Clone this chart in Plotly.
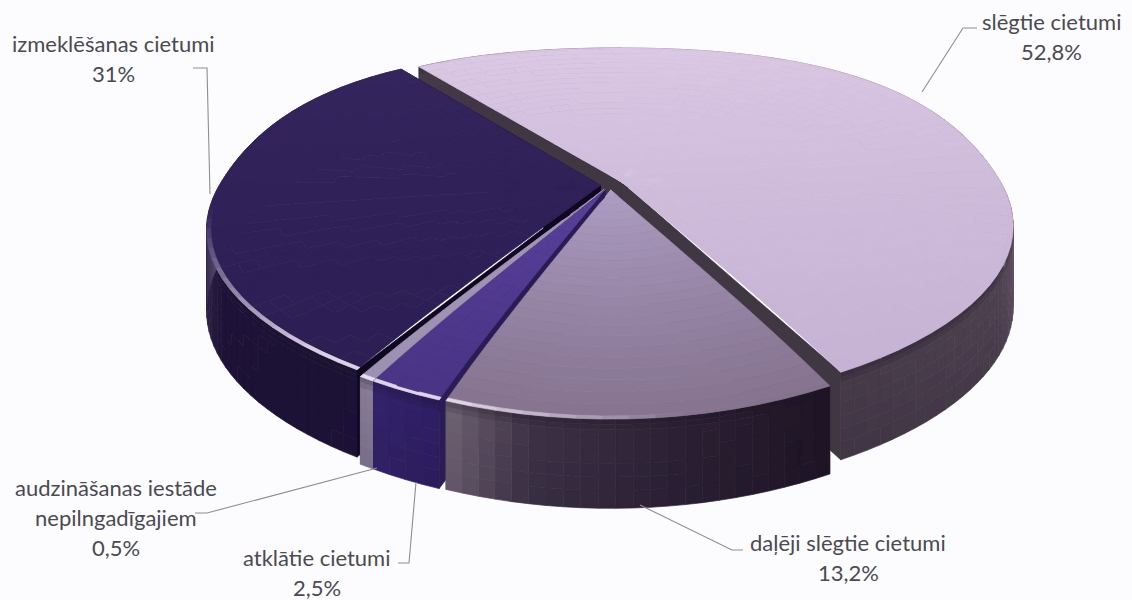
import math
from collections import OrderedDict
import plotly.graph_objects as go

# --- data ---
categories = ["slēgtie cietumi", "daļēji slēgtie cietumi", "atklātie cietumi",
              "audzināšanas iestāde nepilngadīgajiem", "izmeklēšanas cietumi"]
shares = [52.8, 13.2, 2.5, 0.5, 31.0]
share_labels = ["52,8%", "13,2%", "2,5%", "0,5%", "31%"]

# --- styling / projection ---
START = -37.5
CX, CY = 610.0, 185.0
A, B, K = 381.0, 168.75, 0.25
SQUEEZE = 0.05
BACK_FULL = 0.05
DEPTH = 78.0
explode = [0.035, 0.03, 0.03, 0.03, 0.025]
BG = "#fcfcfe"
TEXT = "#4b4a52"
LEADER = "#8e8e90"

style = {
    0: dict(t0="#dccae6", t1="#c4b0d2", wall=[(88, "#8a8096"), (100, "#6e6270"), (118, "#4e4250"), (152, "#453a48")], cut="#3f3742"),
    1: dict(t0="#ae9ec4", t1="#85738f", wall=[(152, "#1d1424"), (172, "#2c2034"), (190, "#3e3246"), (200, "#6f6474")], cut="#4a4050"),
    2: dict(t0="#6f52b8", t1="#44307f", wall=[(200, "#2e1d63"), (212, "#35246e")], cut="#2a1c55"),
    3: dict(t0="#aa9dc4", t1="#9b8fae", wall=[(208, "#8a7f9c"), (214, "#80758f")], cut="#6f6580"),
    4: dict(t0="#35265f", t1="#2b1d52", wall=[(210, "#1c1136"), (240, "#1e1238"), (258, "#3a2d50"), (270, "#5e5276"), (325, "#3a2d60")], cut="#0e0820"),
}
draw_order = [0, 4, 3, 2, 1]


def rgb(h):
    return tuple(int(h[i:i + 2], 16) for i in (1, 3, 5))


def mix(c1, c2, t):
    t = max(0.0, min(1.0, t))
    return tuple(a + (b - a) * t for a, b in zip(c1, c2))


def hexa(c, q=2):
    return "#%02x%02x%02x" % tuple(min(255, int(round(x / q) * q)) for x in c)


def project(u, v, z=0.0):
    s = 1.0 / (1.0 - K * v)
    sx = s * (1 - SQUEEZE * max(v, 0.0) ** 3)
    return CX + A * u * sx, CY + B * v * s + z * DEPTH * (1 + 0.14 * v)


def disk(r, th):
    a = math.radians(th)
    u, v = math.sin(a), -math.cos(a)
    g = 1 + BACK_FULL * 4 * v * v * (1 - v * v) if v < 0 else 1.0
    return r * g * u, r * g * v


def wall_colour(stops, th):
    if th <= stops[0][0]:
        return rgb(stops[0][1])
    for (a0, c0), (a1, c1) in zip(stops, stops[1:]):
        if a0 <= th <= a1:
            return mix(rgb(c0), rgb(c1), (th - a0) / (a1 - a0 or 1))
    return rgb(stops[-1][1])


fig = go.Figure()


def flush(groups):
    for colour, polys in groups.items():
        xs, ys = [], []
        for p in polys:
            xs += [q[0] for q in p] + [p[0][0], None]
            ys += [q[1] for q in p] + [p[0][1], None]
        fig.add_trace(go.Scatter(x=xs, y=ys, mode="lines", fill="toself", fillcolor=colour,
                                 line=dict(color=colour, width=0.7), hoverinfo="skip", showlegend=False))


# slice angles from the shares
angles = []
run = START
for s in shares:
    sweep = s / sum(shares) * 360.0
    angles.append((run, run + sweep))
    run += sweep

for i in draw_order:
    a0, a1 = angles[i]
    st = style[i]
    mid = (a0 + a1) / 2
    m = math.radians(mid)
    ou, ov = explode[i] * math.sin(m), -explode[i] * math.cos(m)
    P = lambda r, th, z=0.0: project(disk(r, th)[0] + ou, disk(r, th)[1] + ov, z)

    # cut faces
    g = OrderedDict()
    for th in (a0, a1):
        g.setdefault(st["cut"], []).append([P(0, th), P(1, th), P(1, th, 1), P(0, th, 1)])
    flush(g)

    # outer wall (the top face, drawn later, hides its far part)
    g = OrderedDict()
    n = max(2, int((a1 - a0) / 2))
    zs = [0, 0.06, 0.12, 0.2, 0.35, 0.5, 0.65, 0.8, 1.0]
    for k in range(n):
        t0 = a0 + (a1 - a0) * k / n
        t1 = a0 + (a1 - a0) * (k + 1) / n
        tm = (t0 + t1) / 2
        base = wall_colour(st["wall"], tm % 360)
        for z0, z1 in zip(zs, zs[1:]):
            zm = (z0 + z1) / 2
            c = base
            if zm < 0.15:
                c = mix(c, rgb("#1a1224"), 0.35 * (1 - zm / 0.15))
            else:
                c = mix(c, rgb("#18102a"), 0.15 * (zm - 0.15))
            g.setdefault(hexa(c, 2), []).append([P(1, t0, z0), P(1, t1, z0), P(1, t1, z1), P(1, t0, z1)])
    flush(g)

    # top face
    g = OrderedDict()
    rs = [j / 24 * 0.99 for j in range(25)] + [1.0]
    n = max(2, int((a1 - a0) / 3))
    for k in range(n):
        t0 = a0 + (a1 - a0) * k / n
        t1 = a0 + (a1 - a0) * (k + 1) / n
        tm = (t0 + t1) / 2
        rad = math.radians(tm)
        um, vm = math.sin(rad), -math.cos(rad)
        for r0, r1 in zip(rs, rs[1:]):
            rm = (r0 + r1) / 2
            f = 0.5 + 0.5 * (rm * vm * 0.9 + rm * um * 0.1)
            c = mix(rgb(st["t0"]), rgb(st["t1"]), f if i != 1 else rm)
            if r0 >= 0.98:
                d = tm % 360
                front = max(0.0, min(1.0, (d - 172) / 28)) * max(0.0, min(1.0, (262 - d) / 45))
                c = mix(c, rgb("#f0e6f6"), 0.9 * front)
            poly = [P(r0, t0), P(r1, t0), P(r1, t1), P(r0, t1)]
            g.setdefault(hexa(c, 1), []).append(poly)
    flush(g)

# leader lines (axis units equal page pixels)
leaders = [
    ([977, 963, 922], [28, 28, 92]),
    ([743, 732, 640], [550, 550, 505]),
    ([398, 409, 416], [563, 563, 482]),
    ([195, 207, 377], [513, 513, 468]),
    ([193, 207, 210], [68, 68, 194]),
]
for lx, ly in leaders:
    fig.add_trace(go.Scatter(x=lx, y=ly, mode="lines", line=dict(color=LEADER, width=1.1),
                             hoverinfo="skip", showlegend=False))

# labels: one annotation per text line, to keep the reference's line spacing
label_lines = [
    (1051, [21, 51], [categories[0], share_labels[0]]),
    (848, [542, 572], [categories[1], share_labels[1]]),
    (317, [557, 587], [categories[2], share_labels[2]]),
    (116, [487, 517, 547], ["audzināšanas iestāde", "nepilngadīgajiem", share_labels[3]]),
    (113, [43, 73], [categories[4], share_labels[4]]),
]
for x, ys, texts in label_lines:
    for y, t in zip(ys, texts):
        fig.add_annotation(x=x, y=y, text=t, showarrow=False, xanchor="center", yanchor="middle",
                           font=dict(family="Lato, Carlito, sans-serif", size=22, color=TEXT))

axis = dict(visible=False, showgrid=False, zeroline=False, fixedrange=True)
fig.update_layout(
    width=1132, height=600, margin=dict(l=0, r=0, t=0, b=0),
    paper_bgcolor=BG, plot_bgcolor=BG, showlegend=False,
    xaxis=dict(range=[0, 1132], **axis),
    yaxis=dict(range=[600, 0], **axis),
)
fig.write_html("out.html", config=dict(displayModeBar=False),
               post_script="document.body.style.margin='0';document.body.style.overflow='hidden';"
                           "document.body.style.background='" + BG + "';")
